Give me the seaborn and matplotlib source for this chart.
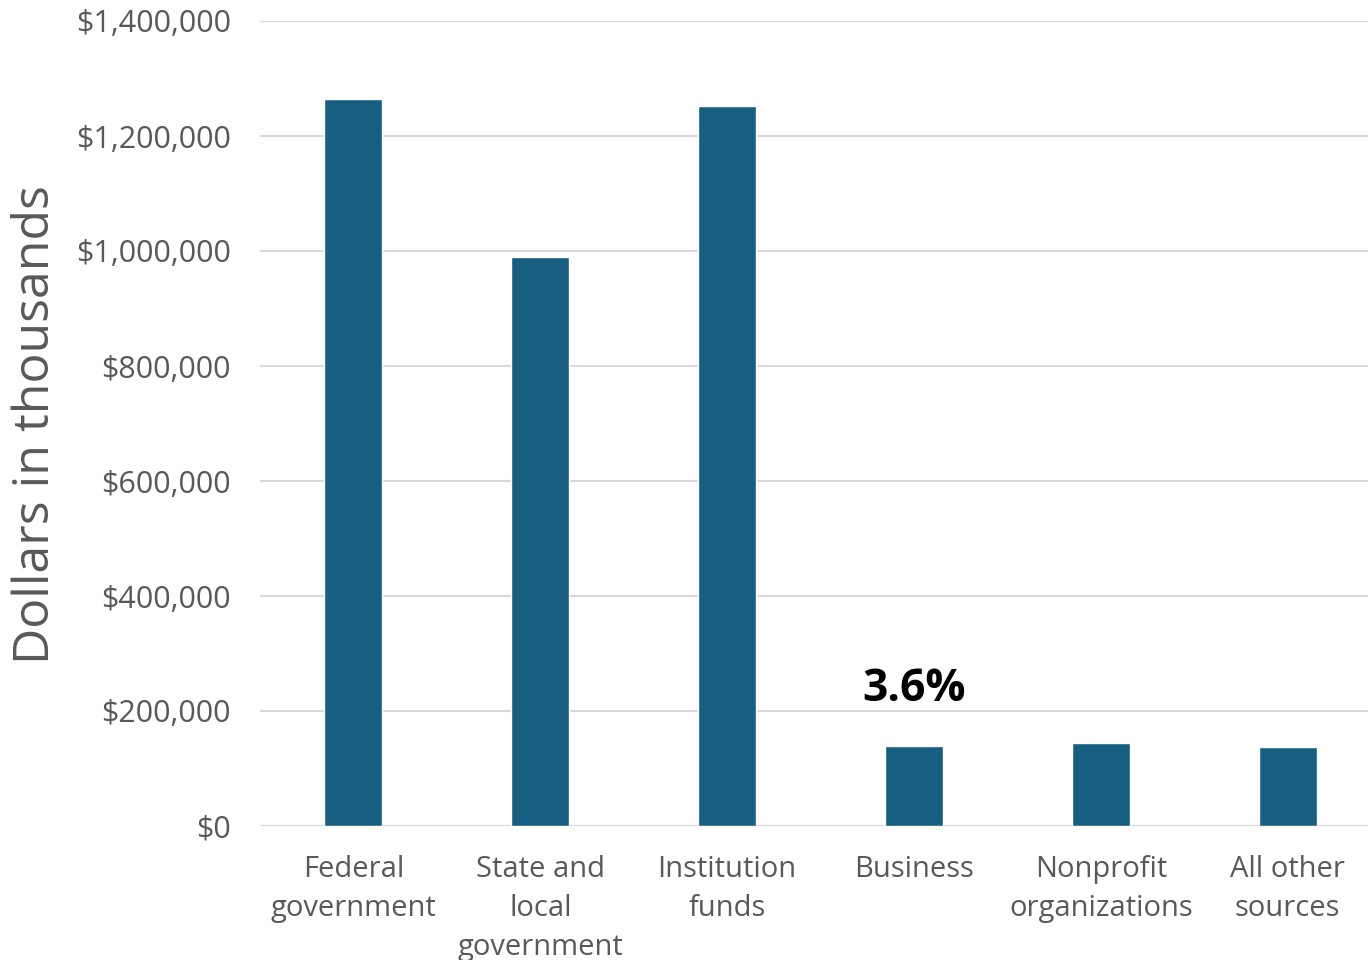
import matplotlib
matplotlib.use('Agg')
import matplotlib.pyplot as plt
import seaborn as sns
import pandas as pd
from matplotlib.ticker import FuncFormatter

# dados
categories = ['Federal\ngovernment', 'State and\nlocal\ngovernment', 'Institution\nfunds',
              'Business', 'Nonprofit\norganizations', 'All other\nsources']
values = [1264000, 990000, 1252000, 139000, 144000, 137000]
y_ticks = [0, 200000, 400000, 600000, 800000, 1000000, 1200000, 1400000]
note_text = '3.6%'
note_cat = 3
note_y = 238000

df = pd.DataFrame({'source': categories, 'dollars': values})

sns.set_style('white')
plt.rcParams['font.family'] = ['Open Sans', 'DejaVu Sans']

fig = plt.figure(figsize=(13.68, 9.6), dpi=100)
ax = fig.add_axes([260 / 1368, 1 - 826 / 960, 1121 / 1368, 805 / 960])

sns.barplot(data=df, x='source', y='dollars', color='#175F80', width=0.31,
            saturation=1, ax=ax, zorder=3)

ax.set_ylim(0, 1400000)
ax.set_xlim(-0.5, 5.5)
ax.set_yticks(y_ticks)
ax.yaxis.set_major_formatter(FuncFormatter(lambda v, p: '${:,.0f}'.format(v)))
ax.grid(axis='y', color='#D9D9D9', linewidth=1.5, zorder=0)
ax.grid(axis='x', visible=False)
sns.despine(ax=ax, left=True, bottom=True, top=True, right=True)
ax.tick_params(axis='y', length=0, pad=21, labelsize=22, labelcolor='#595959')
ax.tick_params(axis='x', length=0, pad=21, labelsize=21, labelcolor='#595959')
for lab in ax.get_xticklabels():
    lab.set_linespacing(1.45)
ax.set_xlabel('')
ax.set_ylabel('')

ax.text(note_cat, note_y, note_text, ha='center', va='center', fontsize=32,
        fontweight='bold', color='black')

fig.text(36 / 1368, 0.558, 'Dollars in thousands', rotation=90, ha='center',
         va='center', fontsize=36, color='#595959')

plt.savefig('out.png', dpi=100)
